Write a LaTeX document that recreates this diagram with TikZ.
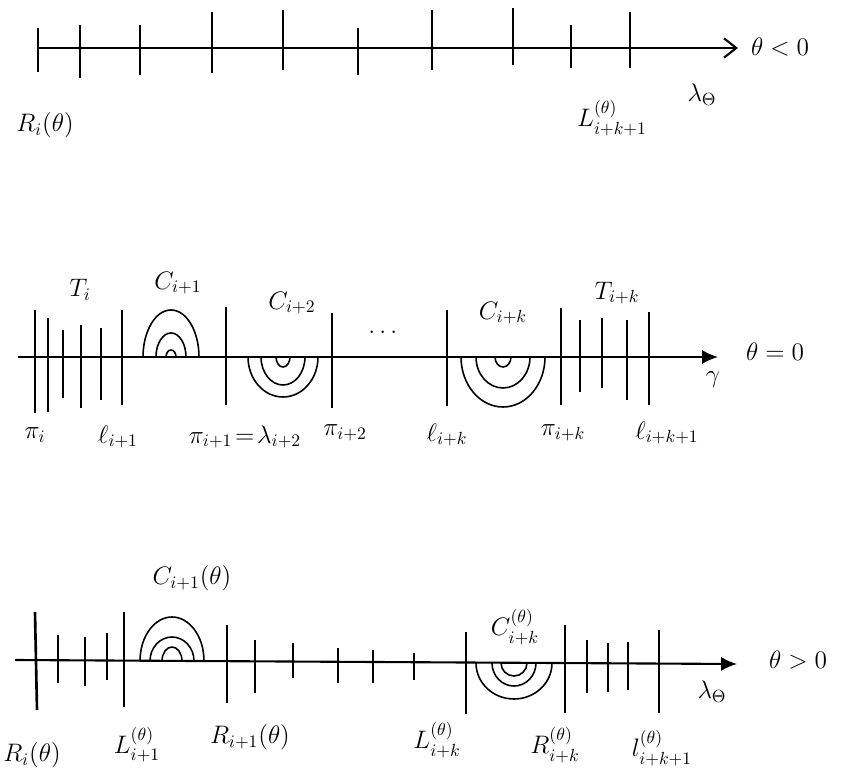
\documentclass[tikz,border=0pt]{standalone}
\usepackage{amsmath,amssymb}
\usepackage{tikz}
\usetikzlibrary{arrows.meta}

\begin{document}
\begin{tikzpicture}[
    x=0.02cm, y=0.02cm,
    axis/.style={line width=1.2pt, -{Latex[length=9pt,width=8pt]}},
    cut/.style={line width=0.8pt},
    wall/.style={line width=1.5pt},
    ring/.style={line width=0.9pt},
    lbl/.style={font=\Large, inner sep=1pt}
]
    \useasboundingbox (0,0) rectangle (845,-780);

    %% theta < 0
    \draw[axis, -{Straight Barb[length=7pt,width=11pt]}] (38,-48) -- (738,-48);
    \draw[wall] (38,-28) -- (38,-72);
    \draw[wall] (630,-12) -- (630,-68);
    \foreach \x/\a/\b in {80/25/78, 140/25/75, 212/12/73, 283/10/70,
                          358/28/75, 432/10/70, 513/8/65, 571/25/68}
        \draw[cut] (\x,-\a) -- (\x,-\b);
    \node[lbl] (thneg) at (780,-47) {$\theta<0$};
    \node[lbl] (lamtop) at (702,-95) {$\lambda_\Theta$};
    \node[lbl] (Ritop) at (45,-125) {$R_i(\theta)$};
    \node[lbl] (Lktop) at (612,-118) {$L_{i+k+1}^{(\theta)}$};

    %% theta = 0
    \draw[axis] (18,-357) -- (718,-357);
    \foreach \x/\a/\b in {35/310/413, 48/318/412, 63/330/398, 81/325/408,
                          101/328/400, 122/310/405, 226/307/405, 332/313/408,
                          447/310/406, 561/308/405, 580/320/392, 602/318/388,
                          627/320/400, 649/312/405}
        \draw[cut] (\x,-\a) -- (\x,-\b);
    \foreach \rx/\ry in {28/47, 15/24, 5/7}
        \draw[ring] ({171-\rx},-357) arc[start angle=180, end angle=0, x radius=\rx, y radius=\ry];
    \foreach \rx/\ry in {35/40, 22/28, 7/10}
        \draw[ring] ({283-\rx},-357) arc[start angle=180, end angle=360, x radius=\rx, y radius=\ry];
    \foreach \rx/\ry in {42/50, 27/31, 8/10}
        \draw[ring] ({503-\rx},-357) arc[start angle=180, end angle=360, x radius=\rx, y radius=\ry];
    \node[lbl] (Ti) at (80,-290) {$T_i$};
    \node[lbl] (C1) at (178,-283) {$C_{i+1}$};
    \node[lbl] (C2) at (292,-303) {$C_{i+2}$};
    \node[lbl] (dots) at (385,-332) {$\dots$};
    \node[lbl] (Ck) at (503,-313) {$C_{i+k}$};
    \node[lbl] (Tk) at (617,-293) {$T_{i+k}$};
    \node[lbl] (theq) at (775,-352) {$\theta=0$};
    \node[lbl] (gam) at (713,-380) {$\gamma$};
    \node[lbl] (pii) at (35,-435) {$\pi_i$};
    \node[lbl] (l1) at (118,-437) {$\ell_{i+1}$};
    \node[lbl] (pi1) at (245,-437) {$\pi_{i+1}\!=\!\lambda_{i+2}$};
    \node[lbl] (pi2) at (345,-433) {$\pi_{i+2}$};
    \node[lbl] (lk) at (447,-435) {$\ell_{i+k}$};
    \node[lbl] (pik) at (563,-433) {$\pi_{i+k}$};
    \node[lbl] (lk1) at (667,-433) {$\ell_{i+k+1}$};

    %% theta > 0
    \draw[axis] (15,-660) -- (737,-664);
    \draw[wall] (35,-612) -- (37,-710);
    \foreach \x/\a/\b in {58/635/683, 85/637/686, 107/633/680, 124/612/707,
                          227/625/703, 255/640/693, 293/643/678, 338/648/683,
                          373/650/683, 414/653/680, 466/632/714, 565/625/713,
                          587/640/693, 608/643/692, 628/642/690, 659/630/713}
        \draw[cut] (\x,-\a) -- (\x,-\b);
    \foreach \rx/\ry in {32/44, 22/24, 10/14}
        \draw[ring] ({172-\rx},-661) arc[start angle=180, end angle=0, x radius=\rx, y radius=\ry];
    \foreach \rx/\ry in {38/36, 22/23, 13/13}
        \draw[ring] ({514-\rx},-663) arc[start angle=180, end angle=360, x radius=\rx, y radius=\ry];
    \node[lbl] (C1t) at (192,-578) {$C_{i+1}(\theta)$};
    \node[lbl] (Ckt) at (515,-627) {$C_{i+k}^{(\theta)}$};
    \node[lbl] (thpos) at (798,-660) {$\theta>0$};
    \node[lbl] (lambot) at (712,-692) {$\lambda_\Theta$};
    \node[lbl] (Ribot) at (32,-755) {$R_i(\theta)$};
    \node[lbl] (L1) at (137,-745) {$L_{i+1}^{(\theta)}$};
    \node[lbl] (R1) at (250,-737) {$R_{i+1}(\theta)$};
    \node[lbl] (Lk) at (437,-740) {$L_{i+k}^{(\theta)}$};
    \node[lbl] (Rk) at (555,-745) {$R_{i+k}^{(\theta)}$};
    \node[lbl] (lkt) at (662,-748) {$l_{i+k+1}^{(\theta)}$};
\end{tikzpicture}
\end{document}
